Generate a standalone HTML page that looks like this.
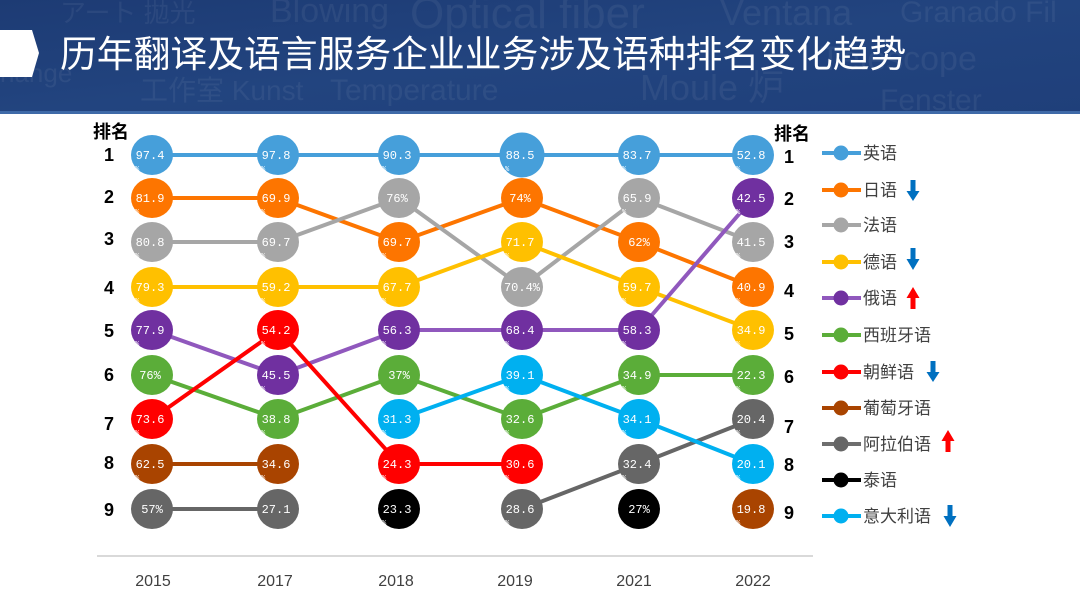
<!DOCTYPE html>
<html><head><meta charset="utf-8"><style>
html,body{margin:0;padding:0;background:#fff;}
body{width:1080px;height:604px;overflow:hidden;}
svg{display:block;}
.bt{font-family:"Liberation Mono","DejaVu Sans Mono",monospace;font-size:12px;fill:#fff;text-anchor:middle;}
.pc{font-family:"Liberation Mono",monospace;font-size:7px;fill:#fff;}
.rk{font-family:"Liberation Sans",sans-serif;font-size:18px;font-weight:bold;fill:#000;text-anchor:middle;}
.yr{font-family:"Liberation Sans",sans-serif;font-size:16px;fill:#404040;text-anchor:middle;}
.lg{font-family:"Liberation Sans","Noto Sans CJK SC",sans-serif;font-size:17px;fill:#404040;}
.tx{font-family:"Liberation Sans","Noto Sans CJK SC",sans-serif;}
.bg{font-family:"Liberation Sans","Noto Sans CJK JP",sans-serif;fill:#fff;fill-opacity:0.06;}
</style></head><body>
<svg width="1080" height="604" viewBox="0 0 1080 604" xmlns="http://www.w3.org/2000/svg">
<defs>
<linearGradient id="hg" x1="0" y1="0" x2="1" y2="1">
<stop offset="0" stop-color="#1d3b74"/>
<stop offset="0.5" stop-color="#22447f"/>
<stop offset="1" stop-color="#1f3f7a"/>
</linearGradient>
</defs>
<!-- header -->
<rect x="0" y="0" width="1080" height="114" fill="url(#hg)"/>
<g class="bg">
<text x="60" y="22" font-size="26">アート 拋光</text>
<text x="270" y="22" font-size="34">Blowing</text>
<text x="410" y="28" font-size="44">Optical fiber</text>
<text x="720" y="25" font-size="36">Ventana</text>
<text x="900" y="22" font-size="30">Granado Fil</text>
<text x="0" y="82" font-size="26">hange</text>
<text x="140" y="100" font-size="28">工作室 Kunst</text>
<text x="330" y="100" font-size="30">Temperature</text>
<text x="640" y="100" font-size="36">Moule 炉</text>
<text x="820" y="70" font-size="34">Télescope</text>
<text x="880" y="110" font-size="30">Fenster</text>
</g>
<rect x="0" y="111" width="1080" height="3" fill="#3f6aa8"/>
<polygon points="0,30 32,30 39,53 32,77 0,77" fill="#fff"/>
<text x="60" y="67" class="tx" font-size="36.8" fill="#fff">历年翻译及语言服务企业业务涉及语种排名变化趋势</text>

<!-- axis -->
<line x1="97" y1="556" x2="813" y2="556" stroke="#d9d9d9" stroke-width="2"/>
<text x="153" y="586" class="yr">2015</text>
<text x="275" y="586" class="yr">2017</text>
<text x="396" y="586" class="yr">2018</text>
<text x="515" y="586" class="yr">2019</text>
<text x="634" y="586" class="yr">2021</text>
<text x="753" y="586" class="yr">2022</text>

<!-- rank labels -->
<text x="111" y="138" class="tx" font-size="18" font-weight="bold" text-anchor="middle">排名</text>
<text x="792" y="140" class="tx" font-size="18" font-weight="bold" text-anchor="middle">排名</text>
<g class="rk">
<text x="109" y="161">1</text><text x="109" y="203">2</text><text x="109" y="245">3</text>
<text x="109" y="294">4</text><text x="109" y="337">5</text><text x="109" y="381">6</text>
<text x="109" y="430">7</text><text x="109" y="469">8</text><text x="109" y="516">9</text>
<text x="789" y="163">1</text><text x="789" y="205">2</text><text x="789" y="248">3</text>
<text x="789" y="297">4</text><text x="789" y="340">5</text><text x="789" y="383">6</text>
<text x="789" y="433">7</text><text x="789" y="471">8</text><text x="789" y="519">9</text>
</g>

<!-- lines -->
<g fill="none" stroke-width="4" stroke-linejoin="round">
<polyline points="152,155 753,155" stroke="#469fda"/>
<polyline points="152,198 278,198 399,242 522,198 639,242 753,287" stroke="#fd7500"/>
<polyline points="152,242 278,242 399,198 522,287 639,198 753,242" stroke="#a6a6a6"/>
<polyline points="152,287 278,287 399,287 522,242 639,287 753,330" stroke="#ffc000"/>
<polyline points="152,330 278,375 399,330 522,330 639,330 753,198" stroke="#9058bd"/>
<polyline points="152,375 278,419 399,375 522,419 639,375 753,375" stroke="#5bad39"/>
<polyline points="152,419 278,330 399,464 522,464" stroke="#ff0000"/>
<polyline points="152,464 278,464" stroke="#a94400"/>
<polyline points="152,509 278,509" stroke="#666666"/>
<polyline points="522,509 639,464 753,419" stroke="#666666"/>
<polyline points="399,419 522,375 639,419 753,464" stroke="#00b0f0"/>
</g>

<!-- bubbles -->
<g>
<!-- 2015 -->
<ellipse cx="152" cy="155" rx="21" ry="20" fill="#469fda"/><text x="150" y="159" class="bt">97.4</text>
<ellipse cx="152" cy="198" rx="21" ry="20" fill="#fd7500"/><text x="150" y="202" class="bt">81.9</text>
<ellipse cx="152" cy="242" rx="21" ry="20" fill="#a6a6a6"/><text x="150" y="246" class="bt">80.8</text>
<ellipse cx="152" cy="287" rx="21" ry="20" fill="#ffc000"/><text x="150" y="291" class="bt">79.3</text>
<ellipse cx="152" cy="330" rx="21" ry="20" fill="#7030a0"/><text x="150" y="334" class="bt">77.9</text>
<ellipse cx="152" cy="375" rx="21" ry="20" fill="#5bad39"/><text x="150" y="379" class="bt">76%</text>
<ellipse cx="152" cy="419" rx="21" ry="20" fill="#ff0000"/><text x="150" y="423" class="bt">73.6</text>
<ellipse cx="152" cy="464" rx="21" ry="20" fill="#a94400"/><text x="150" y="468" class="bt">62.5</text>
<ellipse cx="152" cy="509" rx="21" ry="20" fill="#666666"/><text x="152" y="513" class="bt">57%</text>
<!-- 2017 -->
<ellipse cx="278" cy="155" rx="21" ry="20" fill="#469fda"/><text x="276" y="159" class="bt">97.8</text>
<ellipse cx="278" cy="198" rx="21" ry="20" fill="#fd7500"/><text x="276" y="202" class="bt">69.9</text>
<ellipse cx="278" cy="242" rx="21" ry="20" fill="#a6a6a6"/><text x="276" y="246" class="bt">69.7</text>
<ellipse cx="278" cy="287" rx="21" ry="20" fill="#ffc000"/><text x="276" y="291" class="bt">59.2</text>
<ellipse cx="278" cy="330" rx="21" ry="20" fill="#ff0000"/><text x="276" y="334" class="bt">54.2</text>
<ellipse cx="278" cy="375" rx="21" ry="20" fill="#7030a0"/><text x="276" y="379" class="bt">45.5</text>
<ellipse cx="278" cy="419" rx="21" ry="20" fill="#5bad39"/><text x="276" y="423" class="bt">38.8</text>
<ellipse cx="278" cy="464" rx="21" ry="20" fill="#a94400"/><text x="276" y="468" class="bt">34.6</text>
<ellipse cx="278" cy="509" rx="21" ry="20" fill="#666666"/><text x="276" y="513" class="bt">27.1</text>
<!-- 2018 -->
<ellipse cx="399" cy="155" rx="21" ry="20" fill="#469fda"/><text x="397" y="159" class="bt">90.3</text>
<ellipse cx="399" cy="198" rx="21" ry="20" fill="#a6a6a6"/><text x="397" y="202" class="bt">76%</text>
<ellipse cx="399" cy="242" rx="21" ry="20" fill="#fd7500"/><text x="397" y="246" class="bt">69.7</text>
<ellipse cx="399" cy="287" rx="21" ry="20" fill="#ffc000"/><text x="397" y="291" class="bt">67.7</text>
<ellipse cx="399" cy="330" rx="21" ry="20" fill="#7030a0"/><text x="397" y="334" class="bt">56.3</text>
<ellipse cx="399" cy="375" rx="21" ry="20" fill="#5bad39"/><text x="399" y="379" class="bt">37%</text>
<ellipse cx="399" cy="419" rx="21" ry="20" fill="#00b0f0"/><text x="397" y="423" class="bt">31.3</text>
<ellipse cx="399" cy="464" rx="21" ry="20" fill="#ff0000"/><text x="397" y="468" class="bt">24.3</text>
<ellipse cx="399" cy="509" rx="21" ry="20" fill="#000000"/><text x="397" y="513" class="bt">23.3</text>
<!-- 2019 -->
<ellipse cx="522" cy="155" rx="22.5" ry="22.5" fill="#469fda"/><text x="520" y="159" class="bt">88.5</text>
<ellipse cx="522" cy="198" rx="21" ry="20" fill="#fd7500"/><text x="520" y="202" class="bt">74%</text>
<ellipse cx="522" cy="242" rx="21" ry="20" fill="#ffc000"/><text x="520" y="246" class="bt">71.7</text>
<ellipse cx="522" cy="287" rx="21" ry="20" fill="#a6a6a6"/><text x="522" y="291" class="bt">70.4%</text>
<ellipse cx="522" cy="330" rx="21" ry="20" fill="#7030a0"/><text x="520" y="334" class="bt">68.4</text>
<ellipse cx="522" cy="375" rx="21" ry="20" fill="#00b0f0"/><text x="520" y="379" class="bt">39.1</text>
<ellipse cx="522" cy="419" rx="21" ry="20" fill="#5bad39"/><text x="520" y="423" class="bt">32.6</text>
<ellipse cx="522" cy="464" rx="21" ry="20" fill="#ff0000"/><text x="520" y="468" class="bt">30.6</text>
<ellipse cx="522" cy="509" rx="21" ry="20" fill="#666666"/><text x="520" y="513" class="bt">28.6</text>
<!-- 2021 -->
<ellipse cx="639" cy="155" rx="21" ry="20" fill="#469fda"/><text x="637" y="159" class="bt">83.7</text>
<ellipse cx="639" cy="198" rx="21" ry="20" fill="#a6a6a6"/><text x="637" y="202" class="bt">65.9</text>
<ellipse cx="639" cy="242" rx="21" ry="20" fill="#fd7500"/><text x="639" y="246" class="bt">62%</text>
<ellipse cx="639" cy="287" rx="21" ry="20" fill="#ffc000"/><text x="637" y="291" class="bt">59.7</text>
<ellipse cx="639" cy="330" rx="21" ry="20" fill="#7030a0"/><text x="637" y="334" class="bt">58.3</text>
<ellipse cx="639" cy="375" rx="21" ry="20" fill="#5bad39"/><text x="637" y="379" class="bt">34.9</text>
<ellipse cx="639" cy="419" rx="21" ry="20" fill="#00b0f0"/><text x="637" y="423" class="bt">34.1</text>
<ellipse cx="639" cy="464" rx="21" ry="20" fill="#666666"/><text x="637" y="468" class="bt">32.4</text>
<ellipse cx="639" cy="509" rx="21" ry="20" fill="#000000"/><text x="639" y="513" class="bt">27%</text>
<!-- 2022 -->
<ellipse cx="753" cy="155" rx="21" ry="20" fill="#469fda"/><text x="751" y="159" class="bt">52.8</text>
<ellipse cx="753" cy="198" rx="21" ry="20" fill="#7030a0"/><text x="751" y="202" class="bt">42.5</text>
<ellipse cx="753" cy="242" rx="21" ry="20" fill="#a6a6a6"/><text x="751" y="246" class="bt">41.5</text>
<ellipse cx="753" cy="287" rx="21" ry="20" fill="#fd7500"/><text x="751" y="291" class="bt">40.9</text>
<ellipse cx="753" cy="330" rx="21" ry="20" fill="#ffc000"/><text x="751" y="334" class="bt">34.9</text>
<ellipse cx="753" cy="375" rx="21" ry="20" fill="#5bad39"/><text x="751" y="379" class="bt">22.3</text>
<ellipse cx="753" cy="419" rx="21" ry="20" fill="#666666"/><text x="751" y="423" class="bt">20.4</text>
<ellipse cx="753" cy="464" rx="21" ry="20" fill="#00b0f0"/><text x="751" y="468" class="bt">20.1</text>
<ellipse cx="753" cy="509" rx="21" ry="20" fill="#a94400"/><text x="751" y="513" class="bt">19.8</text>
</g>

<!-- tiny % marks -->
<g class="pc">
<text x="135" y="171">%</text><text x="135" y="214">%</text><text x="135" y="258">%</text><text x="135" y="303">%</text><text x="135" y="346">%</text><text x="135" y="435">%</text><text x="135" y="480">%</text>
<text x="261" y="171">%</text><text x="261" y="214">%</text><text x="261" y="258">%</text><text x="261" y="303">%</text><text x="261" y="346">%</text><text x="261" y="391">%</text><text x="261" y="435">%</text><text x="261" y="480">%</text>
<text x="382" y="171">%</text><text x="382" y="258">%</text><text x="382" y="303">%</text><text x="382" y="346">%</text><text x="382" y="435">%</text><text x="382" y="480">%</text><text x="382" y="525">%</text>
<text x="505" y="171">%</text><text x="505" y="258">%</text><text x="505" y="346">%</text><text x="505" y="391">%</text><text x="505" y="435">%</text><text x="505" y="480">%</text><text x="505" y="525">%</text>
<text x="622" y="171">%</text><text x="622" y="214">%</text><text x="622" y="303">%</text><text x="622" y="346">%</text><text x="622" y="391">%</text><text x="622" y="435">%</text><text x="622" y="480">%</text>
<text x="736" y="171">%</text><text x="736" y="214">%</text><text x="736" y="258">%</text><text x="736" y="303">%</text><text x="736" y="346">%</text><text x="736" y="391">%</text><text x="736" y="435">%</text><text x="736" y="480">%</text><text x="736" y="525">%</text>
</g>

<!-- legend -->
<g stroke-width="4">
<line x1="822" y1="153" x2="861" y2="153" stroke="#469fda"/><circle cx="841" cy="153" r="7.5" fill="#469fda" stroke="none"/>
<line x1="822" y1="190" x2="861" y2="190" stroke="#fd7500"/><circle cx="841" cy="190" r="7.5" fill="#fd7500" stroke="none"/>
<line x1="822" y1="225" x2="861" y2="225" stroke="#a6a6a6"/><circle cx="841" cy="225" r="7.5" fill="#a6a6a6" stroke="none"/>
<line x1="822" y1="262" x2="861" y2="262" stroke="#ffc000"/><circle cx="841" cy="262" r="7.5" fill="#ffc000" stroke="none"/>
<line x1="822" y1="298" x2="861" y2="298" stroke="#9058bd"/><circle cx="841" cy="298" r="7.5" fill="#7030a0" stroke="none"/>
<line x1="822" y1="335" x2="861" y2="335" stroke="#5bad39"/><circle cx="841" cy="335" r="7.5" fill="#5bad39" stroke="none"/>
<line x1="822" y1="372" x2="861" y2="372" stroke="#ff0000"/><circle cx="841" cy="372" r="7.5" fill="#ff0000" stroke="none"/>
<line x1="822" y1="408" x2="861" y2="408" stroke="#a94400"/><circle cx="841" cy="408" r="7.5" fill="#a94400" stroke="none"/>
<line x1="822" y1="444" x2="861" y2="444" stroke="#6e6e6e"/><circle cx="841" cy="444" r="7.5" fill="#666666" stroke="none"/>
<line x1="822" y1="480" x2="861" y2="480" stroke="#000000"/><circle cx="841" cy="480" r="7.5" fill="#000000" stroke="none"/>
<line x1="822" y1="516" x2="861" y2="516" stroke="#00b0f0"/><circle cx="841" cy="516" r="7.5" fill="#00b0f0" stroke="none"/>
</g>
<g class="lg">
<text x="863" y="159">英语</text>
<text x="863" y="196">日语</text>
<text x="863" y="231">法语</text>
<text x="863" y="268">德语</text>
<text x="863" y="304">俄语</text>
<text x="863" y="341">西班牙语</text>
<text x="863" y="378">朝鲜语</text>
<text x="863" y="414">葡萄牙语</text>
<text x="863" y="450">阿拉伯语</text>
<text x="863" y="486">泰语</text>
<text x="863" y="522">意大利语</text>
</g>

<!-- arrows -->
<g>
<polygon points="910.5,180 915.5,180 915.5,191 919.5,191 913,201 906.5,191 910.5,191" fill="#0070c0"/>
<polygon points="910.5,248 915.5,248 915.5,259 919.5,259 913,270 906.5,259 910.5,259" fill="#0070c0"/>
<polygon points="913,287 919.5,298 915.5,298 915.5,309 910.5,309 910.5,298 906.5,298" fill="#ff0000"/>
<polygon points="930.5,361 935.5,361 935.5,372 939.5,372 933,382 926.5,372 930.5,372" fill="#0070c0"/>
<polygon points="948,430 954.5,441 950.5,441 950.5,452 945.5,452 945.5,441 941.5,441" fill="#ff0000"/>
<polygon points="947.5,505 952.5,505 952.5,516 956.5,516 950,527 943.5,516 947.5,516" fill="#0070c0"/>
</g>
</svg>
</body></html>
